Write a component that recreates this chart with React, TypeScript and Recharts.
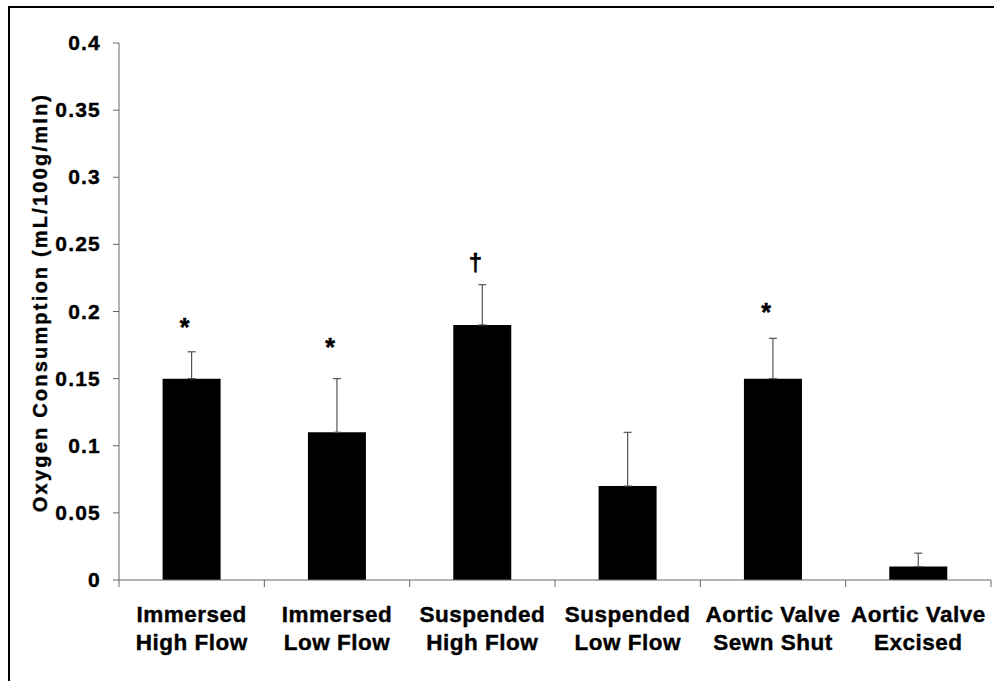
import React from "react"
import { ComposedChart, Bar, ErrorBar, Scatter, XAxis, YAxis } from "recharts"

// Oxygen consumption per preparation, with upper SD and significance marks
const categories = [
    "Immersed\nHigh Flow",
    "Immersed\nLow Flow",
    "Suspended\nHigh Flow",
    "Suspended\nLow Flow",
    "Aortic Valve\nSewn Shut",
    "Aortic Valve\nExcised",
]
const consumption = [0.15, 0.11, 0.19, 0.07, 0.15, 0.01]
const sdUpper = [0.02, 0.04, 0.03, 0.04, 0.03, 0.01]
const marks = ["*", "*", "\u2020", "", "*", ""]
const markLevel = [0.192, 0.177, 0.236, null, 0.203, null]

const yTicks = [0, 0.05, 0.1, 0.15, 0.2, 0.25, 0.3, 0.35, 0.4]

const data = categories.map((name, i) => ({
    name,
    value: consumption[i],
    err: [0, sdUpper[i]],
    mark: marks[i],
    markY: markLevel[i],
}))

const FONT = '"Liberation Sans", Arial, sans-serif'
const LINE = "#666666"

const YTick = ({ x, y, payload }: any) => (
    <text
        x={x}
        y={y}
        dy={7}
        textAnchor="end"
        fontFamily={FONT}
        fontWeight="bold"
        fontSize={21}
        letterSpacing={1.2}
        fill="#000"
        stroke="#000"
        strokeWidth={0.4}
    >
        {String(payload.value)}
    </text>
)

// two-line group label, plus the short separator ticks at the group edges
const XTick = ({ x, y, payload, width, visibleTicksCount, index }: any) => {
    const lines = String(payload.value).split("\n")
    const half = payload.offset || width / visibleTicksCount / 2
    const last = index === visibleTicksCount - 1
    return (
        <g>
            <line x1={x - half} x2={x - half} y1={y} y2={y + 7} stroke={LINE} />
            {last && <line x1={x + half} x2={x + half} y1={y} y2={y + 7} stroke={LINE} />}
            <text
                x={x}
                y={y}
                textAnchor="middle"
                fontFamily={FONT}
                fontWeight="bold"
                fontSize={22.5}
                letterSpacing={0.5}
                fill="#000"
                stroke="#000"
                strokeWidth={0.4}
            >
                {lines.map((line, i) => (
                    <tspan key={i} x={x} y={y + 42 + i * 28}>
                        {line}
                    </tspan>
                ))}
            </text>
        </g>
    )
}

const YLabel = ({ viewBox }: any) => {
    const cx = viewBox.x - 19
    const cy = viewBox.y + viewBox.height / 2 - 9
    return (
        <text
            x={cx}
            y={cy}
            transform={`rotate(-90, ${cx}, ${cy})`}
            textAnchor="middle"
            dominantBaseline="central"
            fontFamily={FONT}
            fontWeight="bold"
            fontSize={20}
            letterSpacing={2.2}
            fill="#000"
            stroke="#000"
            strokeWidth={0.4}
        >
            Oxygen Consumption (mL/100g/mIn)
        </text>
    )
}

// significance symbol drawn above the error bar
const MarkShape = (props: any) => {
    const { cx, cy, payload } = props
    if (!payload.mark || cy == null || isNaN(cy)) return null
    const isStar = payload.mark === "*"
    return (
        <text
            x={cx - 7}
            y={cy}
            dy={isStar ? 14 : 8}
            textAnchor="middle"
            fontFamily={FONT}
            fontWeight="bold"
            fontSize={isStar ? 25 : 24}
            fill="#000"
            stroke="#000"
            strokeWidth={0.5}
        >
            {payload.mark}
        </text>
    )
}

export default function App() {
    return (
        <div style={{ position: "absolute", left: 0, top: 0, width: 994, height: 681, overflow: "hidden", background: "#fff" }}>
            <div
                style={{
                    position: "absolute",
                    left: 8,
                    top: 6,
                    width: 1100,
                    height: 800,
                    borderLeft: "2px solid #000",
                    borderTop: "2px solid #000",
                }}
            />
            <div style={{ position: "absolute", left: 0, top: 0 }}>
                <ComposedChart
                    width={994}
                    height={681}
                    data={data}
                    margin={{ top: 43, right: 3, left: 59, bottom: 31 }}
                    barCategoryGap="30%"
                >
                    <XAxis
                        dataKey="name"
                        tick={<XTick />}
                        tickLine={false}
                        tickSize={0}
                        tickMargin={0}
                        axisLine={{ stroke: LINE }}
                        height={70}
                        interval={0}
                    />
                    <XAxis
                        xAxisId="frame"
                        dataKey="name"
                        orientation="top"
                        tick={false}
                        tickLine={false}
                        axisLine={{ stroke: LINE }}
                        height={0}
                    />
                    <YAxis
                        domain={[0, 0.4]}
                        ticks={yTicks}
                        interval={0}
                        width={60}
                        tick={<YTick />}
                        tickSize={6}
                        tickMargin={12}
                        tickLine={{ stroke: LINE }}
                        axisLine={{ stroke: LINE }}
                        label={<YLabel />}
                    />
                    <YAxis
                        yAxisId="frame"
                        orientation="right"
                        domain={[0, 0.4]}
                        tick={false}
                        tickLine={false}
                        axisLine={{ stroke: LINE }}
                        width={0}
                    />
                    <Bar dataKey="value" fill="#000" isAnimationActive={false}>
                        <ErrorBar dataKey="err" width={4} stroke="#555" strokeWidth={1.2} direction="y" />
                    </Bar>
                    <Scatter dataKey="markY" shape={MarkShape} isAnimationActive={false} />
                </ComposedChart>
            </div>
        </div>
    )
}
